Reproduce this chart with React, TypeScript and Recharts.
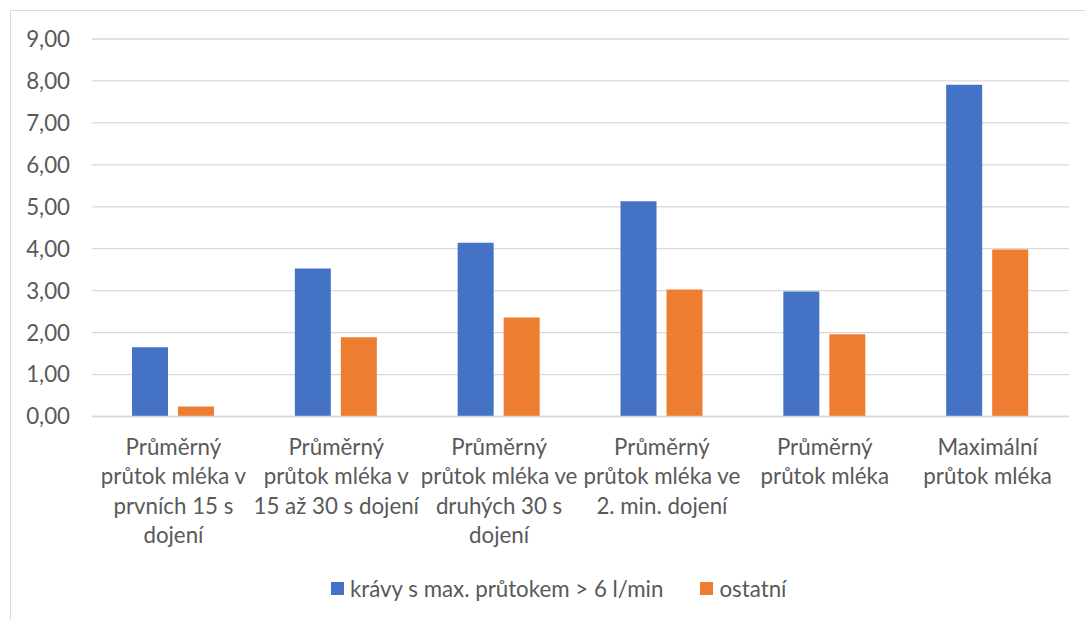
import React from "react";
import { Bar, BarChart, CartesianGrid, XAxis, YAxis } from "recharts";

// category labels, line breaks as in the original chart
const categories = [
  "Průměrný\nprůtok mléka v\nprvních 15 s\ndojení",
  "Průměrný\nprůtok mléka v\n15 až 30 s dojení",
  "Průměrný\nprůtok mléka ve\ndruhých 30 s\ndojení",
  "Průměrný\nprůtok mléka ve\n2. min. dojení",
  "Průměrný\nprůtok mléka",
  "Maximální\nprůtok mléka",
];
const seriesNames = ["krávy s max. průtokem > 6 l/min", "ostatní"];
const seriesColors = ["#4472C4", "#ED7D31"];
const highFlow = [1.65, 3.53, 4.14, 5.13, 2.98, 7.91];
const others = [0.24, 1.89, 2.36, 3.03, 1.96, 3.98];
const yTicks = [0, 1, 2, 3, 4, 5, 6, 7, 8, 9];

const FONT = "Lato, 'Open Sans', sans-serif";
const FONT_SIZE = 22.3;
const TEXT = "#595959";
const GRID = "#D9D9D9";

const data = categories.map((name, i) => ({
  name,
  highFlow: highFlow[i],
  others: others[i],
}));

function CategoryTick({ x, y, payload }: any) {
  const lines = String(payload.value).split("\n");
  return (
    <text
      x={x}
      y={y}
      textAnchor="middle"
      fill={TEXT}
      fontSize={FONT_SIZE}
      fontFamily={FONT}
    >
      {lines.map((line, i) => (
        <tspan key={i} x={x} dy={i === 0 ? 38.5 : 29.3}>
          {line}
        </tspan>
      ))}
    </text>
  );
}

export default function App() {
  return (
    <div
      style={{
        position: "absolute",
        left: 0,
        top: 0,
        width: 1085,
        height: 620,
        overflow: "hidden",
        background: "#fff",
      }}
    >
      <div
        style={{
          position: "absolute",
          left: 10,
          top: 10,
          width: 1200,
          height: 800,
          border: `1px solid ${GRID}`,
        }}
      />
      <div style={{ position: "absolute", left: 0, top: 0 }}>
        <BarChart
          width={1085}
          height={620}
          data={data}
          margin={{ top: 39, right: 16, left: 0, bottom: 3.5 }}
          barSize={36}
          barGap={10}
        >
          <CartesianGrid vertical={false} stroke={GRID} strokeWidth={1.3} />
          <XAxis
            dataKey="name"
            height={200}
            interval={0}
            tickLine={false}
            tickSize={0}
            tickMargin={0}
            axisLine={{ stroke: GRID, strokeWidth: 1.3 }}
            tick={<CategoryTick />}
          />
          <YAxis
            width={92}
            domain={[0, 9]}
            ticks={yTicks}
            interval={0}
            axisLine={false}
            tickLine={false}
            tickSize={0}
            tickMargin={22}
            tickFormatter={(v) => Number(v).toFixed(2).replace(".", ",")}
            tick={{ fontSize: FONT_SIZE, fill: TEXT, fontFamily: FONT }}
          />
          <Bar
            dataKey="highFlow"
            name={seriesNames[0]}
            fill={seriesColors[0]}
            isAnimationActive={false}
          />
          <Bar
            dataKey="others"
            name={seriesNames[1]}
            fill={seriesColors[1]}
            isAnimationActive={false}
          />
        </BarChart>
      </div>
      <div
        style={{
          position: "absolute",
          left: 331,
          top: 575,
          display: "flex",
          alignItems: "center",
          fontFamily: FONT,
          fontSize: FONT_SIZE,
          color: TEXT,
          whiteSpace: "nowrap",
        }}
      >
        {seriesNames.map((name, i) => (
          <div
            key={name}
            style={{
              display: "flex",
              alignItems: "center",
              marginRight: i === 0 ? 37 : 0,
            }}
          >
            <span
              style={{
                display: "inline-block",
                width: 13,
                height: 13,
                background: seriesColors[i],
                marginRight: 6,
              }}
            />
            <span>{name}</span>
          </div>
        ))}
      </div>
    </div>
  );
}
